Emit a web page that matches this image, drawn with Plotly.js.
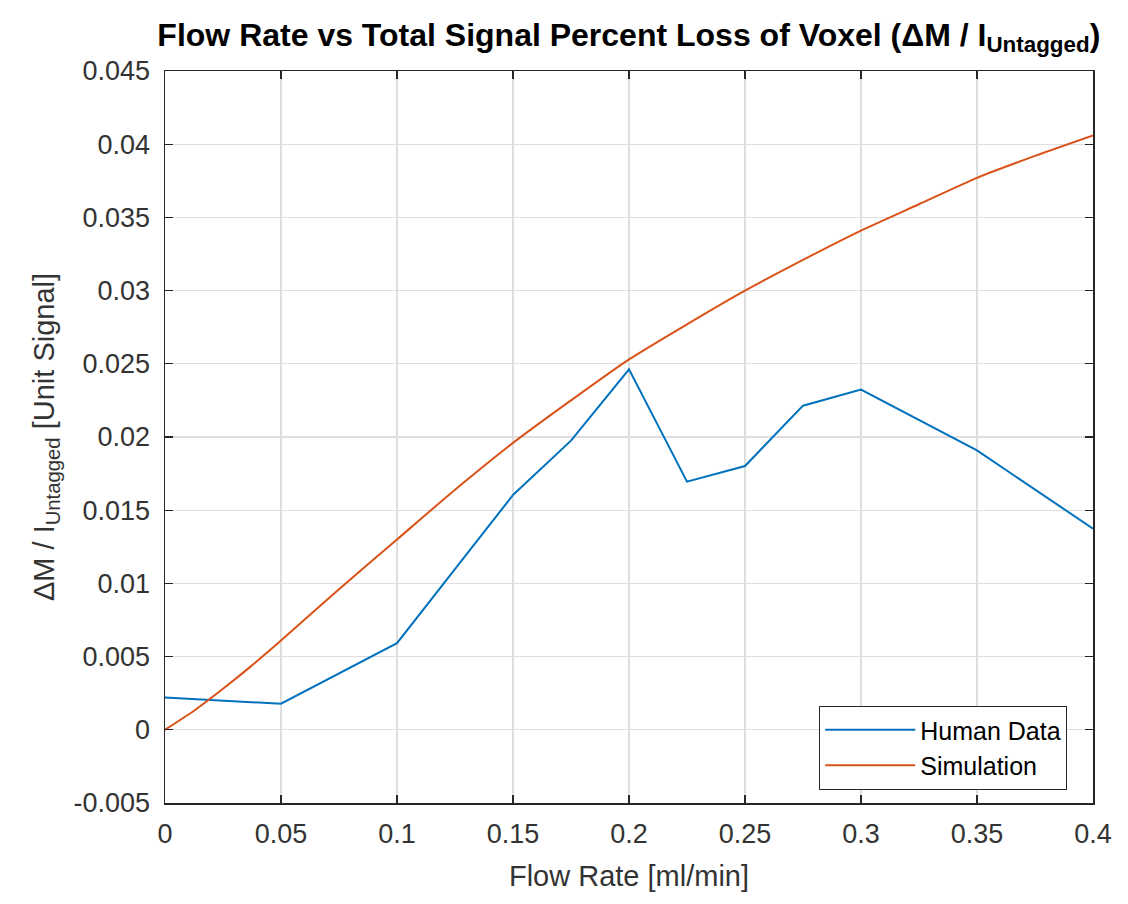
<!DOCTYPE html>
<html>
<head>
<meta charset="utf-8">
<script src="https://cdn.plot.ly/plotly-3.0.1.min.js"></script>
<style>html,body{margin:0;padding:0;background:#fff;}#chart{width:1128px;height:904px;}</style>
</head>
<body>
<div id="chart"></div>
<script>
const humanFlow = [0, 0.05, 0.1, 0.15, 0.175, 0.2, 0.225, 0.25, 0.275, 0.3, 0.35, 0.4];
const humanLoss = [0.00221, 0.00178, 0.00592, 0.01604, 0.01975, 0.02462, 0.01695, 0.01802, 0.02214, 0.02324, 0.01908, 0.01374];
const simFlow = [0, 0.0125, 0.025, 0.0375, 0.05, 0.075, 0.1, 0.125, 0.15, 0.175, 0.2, 0.225, 0.25, 0.275, 0.3, 0.325, 0.35, 0.375, 0.4];
const simLoss = [0, 0.0013, 0.0028, 0.0044, 0.0061, 0.0096, 0.0130, 0.0164, 0.0196, 0.0225, 0.0253, 0.0277, 0.0300, 0.0321, 0.0341, 0.0359, 0.0377, 0.0392, 0.0406];
const xTickVals = [0, 0.05, 0.1, 0.15, 0.2, 0.25, 0.3, 0.35, 0.4];
const xTickText = ["0", "0.05", "0.1", "0.15", "0.2", "0.25", "0.3", "0.35", "0.4"];
const yTickVals = [-0.005, 0, 0.005, 0.01, 0.015, 0.02, 0.025, 0.03, 0.035, 0.04, 0.045];
const yTickText = ["-0.005", "0", "0.005", "0.01", "0.015", "0.02", "0.025", "0.03", "0.035", "0.04", "0.045"];

const font = "Liberation Sans, Arial, sans-serif";
const traces = [
  {x: humanFlow, y: humanLoss, type: 'scatter', mode: 'lines', name: 'Human Data',
   line: {color: '#0072BD', width: 2}},
  {x: simFlow, y: simLoss, type: 'scatter', mode: 'lines', name: 'Simulation',
   line: {color: '#D95319', width: 2, shape: 'spline', smoothing: 0.6}}
];
const axisCommon = {
  showline: true, linecolor: '#262626', linewidth: 1.5, mirror: 'ticks',
  ticks: 'inside', ticklen: 8, tickwidth: 1.2, tickcolor: '#262626',
  showgrid: true, gridcolor: '#dedede', gridwidth: 1.2, zeroline: false,
  tickfont: {family: font, size: 27, color: '#333333'}
};
const layout = {
  width: 1128, height: 904,
  margin: {l: 165, r: 35, t: 71, b: 101},
  paper_bgcolor: '#fff', plot_bgcolor: '#fff',
  showlegend: true,
  title: {text: '<b>Flow Rate vs Total Signal Percent Loss of Voxel (ΔM / I<sub>Untagged</sub>)</b>',
          font: {family: font, size: 32, color: '#000'}, x: 0.5575, xanchor: 'center', y: 0.962, yanchor: 'middle'},
  xaxis: Object.assign({}, axisCommon, {
    range: [0, 0.4], tickvals: xTickVals, ticktext: xTickText, ticklabelstandoff: 6,
    title: {text: 'Flow Rate [ml/min]', font: {family: font, size: 29, color: '#333333'}, standoff: 18}
  }),
  yaxis: Object.assign({}, axisCommon, {
    range: [-0.005, 0.045], tickvals: yTickVals, ticktext: yTickText, ticklabelstandoff: 8,
    title: {text: 'ΔM / I<sub>Untagged</sub> [Unit Signal]', font: {family: font, size: 29, color: '#333333'}, standoff: 10}
  }),
  legend: {x: 0.972, xanchor: 'right', y: 0.018, yanchor: 'bottom',
    bgcolor: '#fff', bordercolor: '#262626', borderwidth: 1.2, itemwidth: 90,
    font: {family: font, size: 25, color: '#000'}, tracegroupgap: 0}
};
Plotly.newPlot('chart', traces, layout, {displayModeBar: false, staticPlot: true});
</script>
</body>
</html>
